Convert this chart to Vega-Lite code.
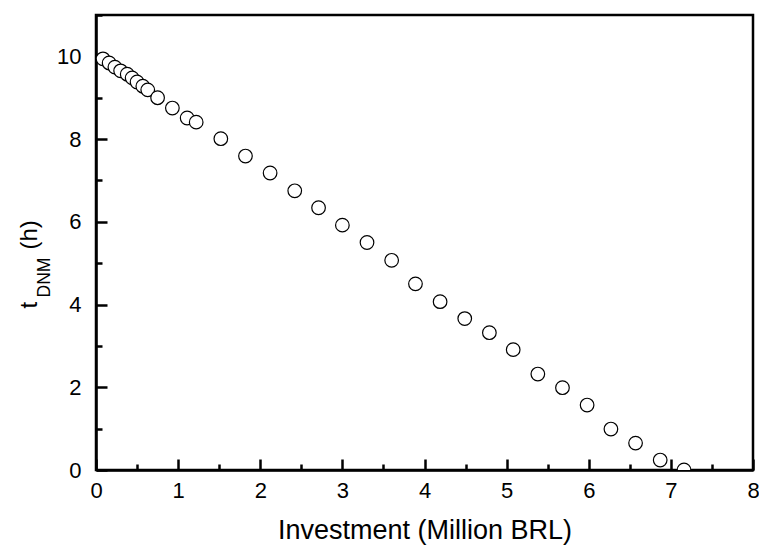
{
  "$schema": "https://vega.github.io/schema/vega-lite/v6.json",
  "width": 657,
  "height": 455,
  "autosize": {"type": "none"},
  "padding": {"left": 96, "top": 15, "right": 6, "bottom": 77},
  "background": "white",
  "config": {
    "view": {"stroke": "black", "strokeWidth": 2.5},
    "font": "Liberation Sans",
    "axis": {
      "domainColor": "black",
      "domainWidth": 2.5,
      "grid": false,
      "labelColor": "black",
      "labelFontSize": 22,
      "titleColor": "black",
      "titleFontWeight": "normal",
      "labelFlush": false,
      "labelOverlap": false
    }
  },
  "data": {
    "values": [
      {"investment": 0.085, "t": 9.94},
      {"investment": 0.16, "t": 9.84},
      {"investment": 0.23, "t": 9.74},
      {"investment": 0.30, "t": 9.65},
      {"investment": 0.38, "t": 9.57},
      {"investment": 0.44, "t": 9.48},
      {"investment": 0.50, "t": 9.38},
      {"investment": 0.57, "t": 9.28},
      {"investment": 0.63, "t": 9.19},
      {"investment": 0.75, "t": 9.00},
      {"investment": 0.93, "t": 8.75},
      {"investment": 1.11, "t": 8.51},
      {"investment": 1.22, "t": 8.41},
      {"investment": 1.52, "t": 8.01},
      {"investment": 1.82, "t": 7.59},
      {"investment": 2.12, "t": 7.18},
      {"investment": 2.42, "t": 6.75},
      {"investment": 2.71, "t": 6.34},
      {"investment": 3.00, "t": 5.92},
      {"investment": 3.30, "t": 5.50},
      {"investment": 3.60, "t": 5.07},
      {"investment": 3.89, "t": 4.50},
      {"investment": 4.19, "t": 4.07},
      {"investment": 4.49, "t": 3.66},
      {"investment": 4.79, "t": 3.32},
      {"investment": 5.08, "t": 2.91},
      {"investment": 5.38, "t": 2.32},
      {"investment": 5.68, "t": 1.99},
      {"investment": 5.98, "t": 1.57},
      {"investment": 6.27, "t": 0.99},
      {"investment": 6.57, "t": 0.65},
      {"investment": 6.87, "t": 0.24},
      {"investment": 7.16, "t": 0.0}
    ]
  },
  "layer": [
    {
      "mark": {"type": "point", "opacity": 0},
      "encoding": {
        "x": {
          "field": "investment", "type": "quantitative",
          "scale": {"domain": [0, 8], "nice": false, "zero": false},
          "axis": {
            "orient": "bottom",
            "values": [0.5, 1.5, 2.5, 3.5, 4.5, 5.5, 6.5, 7.5],
            "labels": false,
            "domain": false,
            "ticks": true,
            "tickColor": "black",
            "tickWidth": 2.5,
            "tickSize": -6,
            "title": "(h)",
            "titleFontSize": 24,
            "titleAngle": 270,
            "titleAlign": "left",
            "titleBaseline": "alphabetic",
            "titleX": -60,
            "titleY": -221
          }
        },
        "y": {
          "field": "t", "type": "quantitative",
          "scale": {"domain": [0, 11], "nice": false, "zero": false},
          "axis": {
            "orient": "left",
            "values": [1, 3, 5, 7, 9, 11],
            "labels": false,
            "domain": false,
            "ticks": true,
            "tickColor": "black",
            "tickWidth": 2.5,
            "tickSize": -6,
            "title": "DNM",
            "titleFontSize": 17.5,
            "titleAngle": 270,
            "titleAlign": "left",
            "titleBaseline": "alphabetic",
            "titleX": -47,
            "titleY": 282
          }
        }
      }
    },
    {
      "mark": {"type": "point", "shape": "circle", "filled": true, "fill": "white", "stroke": "black", "strokeWidth": 1.2, "size": 185, "opacity": 1, "clip": true},
      "encoding": {
        "x": {
          "field": "investment", "type": "quantitative",
          "scale": {"domain": [0, 8], "nice": false, "zero": false},
          "axis": {
            "orient": "bottom",
            "values": [0, 1, 2, 3, 4, 5, 6, 7, 8],
            "format": "d",
            "ticks": true,
            "tickColor": "black",
            "tickWidth": 2.5,
            "tickSize": -11,
            "labelPadding": 21,
            "title": "Investment (Million BRL)",
            "titleFontSize": 27,
            "titleBaseline": "alphabetic",
            "titleY": 68
          }
        },
        "y": {
          "field": "t", "type": "quantitative",
          "scale": {"domain": [0, 11], "nice": false, "zero": false},
          "axis": {
            "orient": "left",
            "values": [0, 2, 4, 6, 8, 10],
            "format": "d",
            "ticks": true,
            "tickColor": "black",
            "tickWidth": 2.5,
            "tickSize": -11,
            "labelPadding": 26,
            "title": "t",
            "titleFontSize": 24,
            "titleAngle": 270,
            "titleAlign": "left",
            "titleBaseline": "alphabetic",
            "titleX": -60,
            "titleY": 293
          }
        }
      }
    }
  ],
  "resolve": {"scale": {"x": "independent", "y": "independent"}, "axis": {"x": "independent", "y": "independent"}}
}
